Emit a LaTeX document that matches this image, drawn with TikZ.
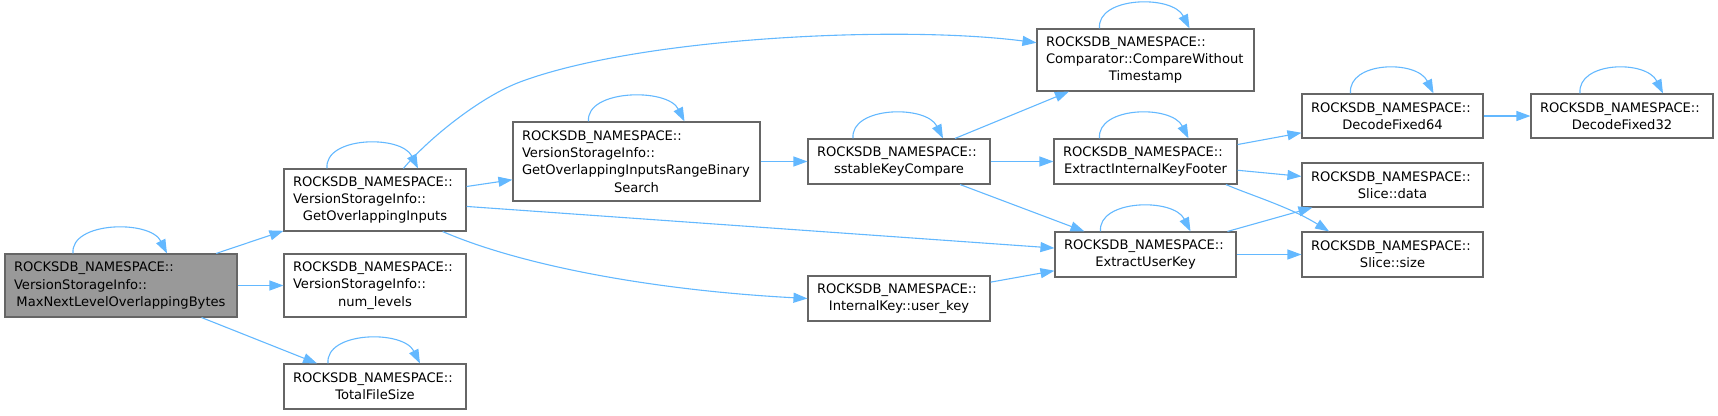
\documentclass[tikz,border=0pt]{standalone}
\usepackage{fontspec}
\setmainfont{DejaVu Sans}
\usepackage{xcolor}
\usetikzlibrary{arrows.meta}

\definecolor{edgeblue}{HTML}{63B8FF}
\definecolor{boxgray}{HTML}{666666}
\definecolor{maingray}{HTML}{999999}

\tikzset{
	fn/.style={rectangle, draw=boxgray, line width=1.1pt, fill=white, text=black,
		inner xsep=9pt, inner ysep=0pt, align=center,
		font=\fontsize{13.1}{17.2}\selectfont},
	call/.style={draw=edgeblue, line width=1.1pt, -{Triangle[length=14pt,width=10pt]}},
}
\newcommand{\lline}[1]{\makebox[\hsize][l]{#1}}
\newcommand{\selfloop}[3]{\draw[call] ([xshift=#2pt]#1.north) .. controls +(-3,-32) and +(-17,-34) .. ([xshift=#3pt]#1.north);}

\begin{document}
\begin{tikzpicture}[x=1pt, y=-1pt]
			\useasboundingbox (0,0) rectangle (1718,415);
			% Nodes
			\node[fn, fill=maingray, text width=214pt, minimum height=63pt] (main) at (121,285.5) {\lline{ROCKSDB\_NAMESPACE::}\\\lline{VersionStorageInfo::}\\MaxNextLevelOverlappingBytes};
			\node[fn, text width=164pt, minimum height=62pt] (goi) at (375,200) {\lline{ROCKSDB\_NAMESPACE::}\\\lline{VersionStorageInfo::}\\GetOverlappingInputs};
			\node[fn, text width=164pt, minimum height=63pt] (numlev) at (375,285.5) {\lline{ROCKSDB\_NAMESPACE::}\\\lline{VersionStorageInfo::}\\num\_levels};
			\node[fn, text width=164pt, minimum height=45pt] (totsize) at (375,386.5) {\lline{ROCKSDB\_NAMESPACE::}\\TotalFileSize};
			\node[fn, text width=229pt, minimum height=79pt] (rbs) at (636.5,161.5) {\lline{ROCKSDB\_NAMESPACE::}\\\lline{VersionStorageInfo::}\\\lline{GetOverlappingInputsRangeBinary}\\Search};
			\node[fn, text width=164pt, minimum height=45pt] (skc) at (899,161.5) {\lline{ROCKSDB\_NAMESPACE::}\\sstableKeyCompare};
			\node[fn, text width=164pt, minimum height=45pt] (ukey) at (899,298.5) {\lline{ROCKSDB\_NAMESPACE::}\\InternalKey::user\_key};
			\node[fn, text width=199pt, minimum height=62pt] (cmp) at (1145.5,60) {\lline{ROCKSDB\_NAMESPACE::}\\\lline{Comparator::CompareWithout}\\Timestamp};
			\node[fn, text width=165pt, minimum height=45pt] (eikf) at (1145.5,161.5) {\lline{ROCKSDB\_NAMESPACE::}\\ExtractInternalKeyFooter};
			\node[fn, text width=163pt, minimum height=45pt] (euk) at (1145.5,254.5) {\lline{ROCKSDB\_NAMESPACE::}\\ExtractUserKey};
			\node[fn, text width=163pt, minimum height=44pt] (df64) at (1392.5,116) {\lline{ROCKSDB\_NAMESPACE::}\\DecodeFixed64};
			\node[fn, text width=163pt, minimum height=44pt] (sdata) at (1392.5,185) {\lline{ROCKSDB\_NAMESPACE::}\\Slice::data};
			\node[fn, text width=163pt, minimum height=45pt] (ssize) at (1392.5,254.5) {\lline{ROCKSDB\_NAMESPACE::}\\Slice::size};
			\node[fn, text width=164pt, minimum height=44pt] (df32) at (1622,116) {\lline{ROCKSDB\_NAMESPACE::}\\DecodeFixed32};
			
			% Calls
			\draw[call] (main) -- (goi);
			\draw[call] (main) -- (numlev);
			\draw[call] (main) -- (totsize);
			\draw[call] (goi) -- (rbs);
			\draw[call] (goi) -- (euk);
			\draw[call] (goi.48) .. controls (428,139) and (480,97) .. (520,82) .. controls (640,37) and (900,25) .. (cmp.171);
			\draw[call] (goi.-25) .. controls (520,265) and (650,290) .. (ukey.west);
			\draw[call] (rbs) -- (skc);
			\draw[call] (skc) -- (cmp);
			\draw[call] (skc) -- (eikf);
			\draw[call] (skc) -- (euk);
			\draw[call] (ukey) -- (euk);
			\draw[call] (eikf) -- (df64);
			\draw[call] (eikf) -- (sdata);
			\draw[call] (eikf.-16) .. controls (1250,195) and (1290,207) .. (ssize.160);
			\draw[call] (euk) -- (sdata);
			\draw[call] (euk) -- (ssize);
			\draw[call] (df64) -- (df32);
			
			% Recursive calls
			\selfloop{main}{-48}{46}
			\selfloop{goi}{-48}{43}
			\selfloop{totsize}{-47}{45}
			\selfloop{rbs}{-48}{48}
			\selfloop{skc}{-46}{44}
			\selfloop{cmp}{-46}{44}
			\selfloop{eikf}{-46}{43}
			\selfloop{euk}{-45}{45}
			\selfloop{df64}{-42}{41}
			\selfloop{df32}{-42}{41}
		\end{tikzpicture}
\end{document}
